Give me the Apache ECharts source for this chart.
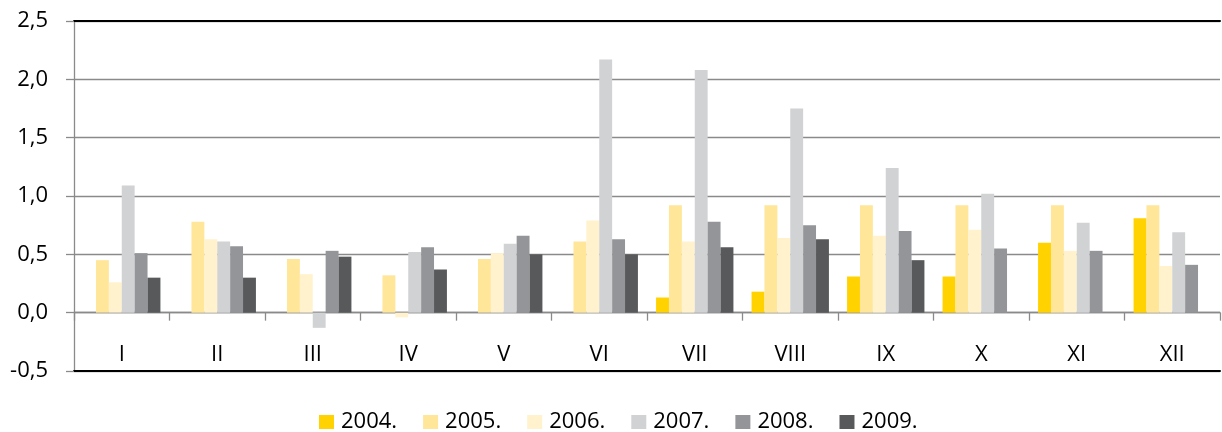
<!DOCTYPE html>
<html>
<head>
<meta charset="utf-8">
<script src="https://cdn.jsdelivr.net/npm/echarts@6/dist/echarts.min.js"></script>
<style>
html,body{margin:0;padding:0;background:#fff;}
#chart{width:1222px;height:432px;}
</style>
</head>
<body>
<div id="chart"></div>
<script>
var months = ['I','II','III','IV','V','VI','VII','VIII','IX','X','XI','XII'];
var yearNames = ['2004.','2005.','2006.','2007.','2008.','2009.'];
var y2004 = [null, null, null, null, null, null, 0.13, 0.18, 0.31, 0.31, 0.60, 0.81];
var y2005 = [0.45, 0.78, 0.46, 0.32, 0.46, 0.61, 0.92, 0.92, 0.92, 0.92, 0.92, 0.92];
var y2006 = [0.26, 0.63, 0.33, -0.04, 0.51, 0.79, 0.61, 0.64, 0.66, 0.71, 0.53, 0.40];
var y2007 = [1.09, 0.61, -0.13, 0.52, 0.59, 2.17, 2.08, 1.75, 1.24, 1.02, 0.77, 0.69];
var y2008 = [0.51, 0.57, 0.53, 0.56, 0.66, 0.63, 0.78, 0.75, 0.70, 0.55, 0.53, 0.41];
var y2009 = [0.30, 0.30, 0.48, 0.37, 0.50, 0.50, 0.56, 0.63, 0.45, null, null, null];
var yTicks = {min: -0.5, max: 2.5, interval: 0.5};

var colors = ['#FFD200', '#FFE699', '#FFF2CC', '#D1D2D4', '#939598', '#58595B'];
var allData = [y2004, y2005, y2006, y2007, y2008, y2009];
var FONT = '"Open Sans", Lato, sans-serif';
var FS = 22;

var series = yearNames.map(function (name, i) {
  return {
    name: name,
    type: 'bar',
    xAxisIndex: 0,
    data: allData[i],
    itemStyle: {color: colors[i]},
    barGap: '0%',
    barCategoryGap: '19%',
    emphasis: {disabled: true}
  };
});

var chart = echarts.init(document.getElementById('chart'), null, {renderer: 'canvas'});
chart.setOption({
  animation: false,
  color: colors,
  textStyle: {fontFamily: FONT},
  grid: {left: 74, right: 2, top: 21, bottom: 61, containLabel: false},
  legend: {
    data: yearNames,
    left: 319,
    top: 411,
    padding: 0,
    icon: 'rect',
    itemWidth: 15,
    itemHeight: 14,
    itemGap: 26,
    textStyle: {fontFamily: FONT, fontSize: 22, lineHeight: 22, color: '#000', padding: [0, 0, 0, 2]},
    selectedMode: false
  },
  xAxis: [
    {
      type: 'category',
      data: months,
      position: 'bottom',
      axisLine: {onZero: true, lineStyle: {color: '#8a8a8a', width: 1.3}},
      axisTick: {show: true, length: 8, lineStyle: {color: '#8a8a8a', width: 1.3}},
      axisLabel: {show: false},
      splitLine: {show: false}
    },
    {
      type: 'category',
      data: months,
      position: 'bottom',
      axisLine: {onZero: false, lineStyle: {color: '#000', width: 2}},
      axisTick: {show: false},
      axisLabel: {show: true, margin: -27, fontFamily: FONT, fontSize: FS, color: '#000'},
      splitLine: {show: false}
    },
    {
      type: 'category',
      data: months,
      position: 'top',
      axisLine: {onZero: false, lineStyle: {color: '#000', width: 2}},
      axisTick: {show: false},
      axisLabel: {show: false},
      splitLine: {show: false}
    }
  ],
  yAxis: {
    type: 'value',
    min: yTicks.min,
    max: yTicks.max,
    interval: yTicks.interval,
    axisLine: {show: true, lineStyle: {color: '#8a8a8a', width: 1.3}},
    axisTick: {show: true, length: 8, lineStyle: {color: '#8a8a8a', width: 1.3}},
    axisLabel: {
      margin: 26,
      fontFamily: FONT,
      fontSize: FS,
      color: '#000',
      formatter: function (v) { return v.toFixed(1).replace('.', ','); }
    },
    splitLine: {show: true, lineStyle: {color: '#8a8a8a', width: 1.3}}
  },
  series: series
});
</script>
</body>
</html>
